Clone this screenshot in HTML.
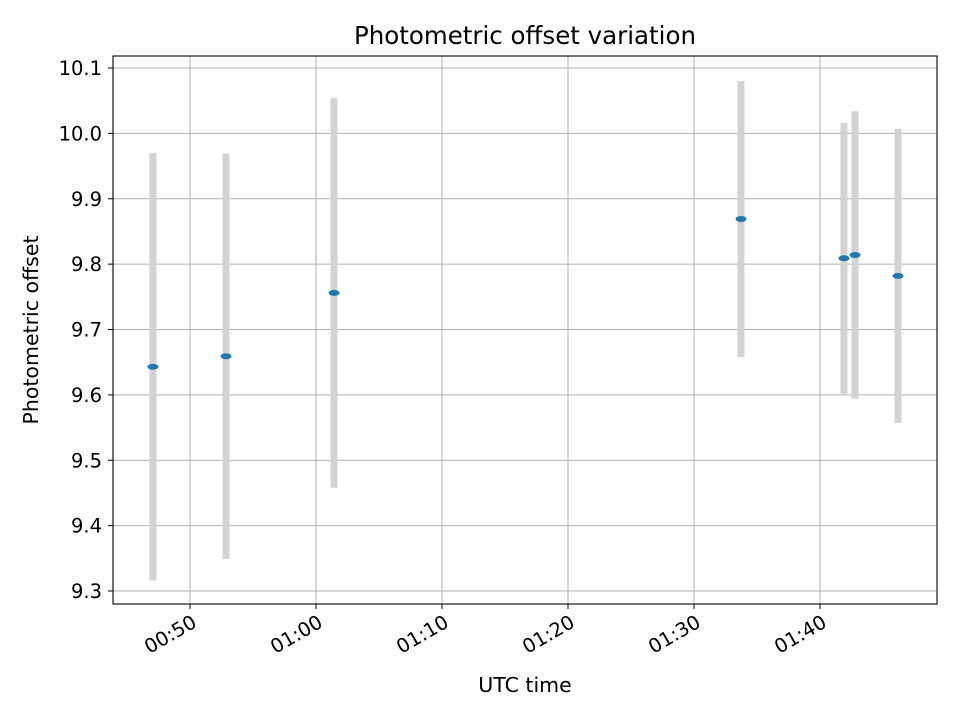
<!DOCTYPE html>
<html><head><meta charset="utf-8"><style>
body{margin:0;background:#fff;}
svg text{font-family:"DejaVu Sans","Liberation Sans",sans-serif;fill:#000;}
.tick{font-size:19.5px;}
.lab{font-size:20.5px;}
.title{font-size:24.5px;}
</style></head><body>
<svg id="chart" width="960" height="720" xmlns="http://www.w3.org/2000/svg">
<rect width="960" height="720" fill="#fff"/>
<g id="grid"></g>
<g id="marks"></g>
<rect x="113" y="56" width="824" height="548" fill="none" stroke="#000" stroke-width="1.1"/>
<g id="ticks"></g>
<text class="title" x="525" y="44" text-anchor="middle">Photometric offset variation</text>
<text class="lab" x="525" y="692" text-anchor="middle">UTC time</text>
<text class="lab" transform="translate(38,330) rotate(-90)" text-anchor="middle">Photometric offset</text>
</svg>
<script>
// minutes after 00:00 UTC
const times = [47.06, 52.86, 61.43, 93.73, 101.9, 102.78, 106.19];
const offsets = [9.643, 9.659, 9.756, 9.869, 9.809, 9.814, 9.782];
const errors = [0.327, 0.31, 0.298, 0.211, 0.207, 0.22, 0.225];
const yTicks = [9.3, 9.4, 9.5, 9.6, 9.7, 9.8, 9.9, 10.0, 10.1];
const yTickLabels = ["9.3","9.4","9.5","9.6","9.7","9.8","9.9","10.0","10.1"];
const xTicks = [50, 60, 70, 80, 90, 100];
const xTickLabels = ["00:50","01:00","01:10","01:20","01:30","01:40"];

const NS = "http://www.w3.org/2000/svg";
function xs(m){ return 190 + (m - 50) * 12.6; }
function ys(v){ return 68 + (10.1 - v) * 653.75; }
function mk(tag, attrs, parent){
  const e = document.createElementNS(NS, tag);
  for (const k in attrs) e.setAttribute(k, attrs[k]);
  parent.appendChild(e); return e;
}
const grid = document.getElementById('grid');
const ticks = document.getElementById('ticks');
const marks = document.getElementById('marks');

yTicks.forEach((v, i) => {
  const y = ys(v);
  const g = mk('line', {x1:113, x2:937, y1:y, y2:y, stroke:'#b0b0b0', 'stroke-width':1}, grid);
  
  
  const t = mk('line', {x1:108, x2:113, y1:y, y2:y, stroke:'#000', 'stroke-width':1}, ticks);
  
  
  const l = mk('text', {x:102, y:y+7, 'class':'tick', 'text-anchor':'end'}, ticks);
  l.textContent = yTickLabels[i];
  
  
});
xTicks.forEach((m, i) => {
  const x = xs(m);
  const g = mk('line', {x1:x, x2:x, y1:56, y2:604, stroke:'#b0b0b0', 'stroke-width':1}, grid);
  
  
  const t = mk('line', {x1:x, x2:x, y1:604, y2:609, stroke:'#000', 'stroke-width':1}, ticks);
  
  
  const l = mk('text', {transform:`translate(${x+8},${626}) rotate(-30)`, 'class':'tick', 'text-anchor':'end'}, ticks);
  l.textContent = xTickLabels[i];
  
  
});
times.forEach((m, i) => {
  const x = xs(m);
  const b = mk('line', {x1:x, x2:x, y1:ys(offsets[i]+errors[i]), y2:ys(offsets[i]-errors[i]), stroke:'#d3d3d3', 'stroke-width':7}, marks);
  
  
});
times.forEach((m, i) => {
  const p = mk('ellipse', {cx:xs(m), cy:ys(offsets[i]), rx:5.5, ry:3, fill:'#1f77b4'}, marks);
  
  
});
</script>
</body></html>
